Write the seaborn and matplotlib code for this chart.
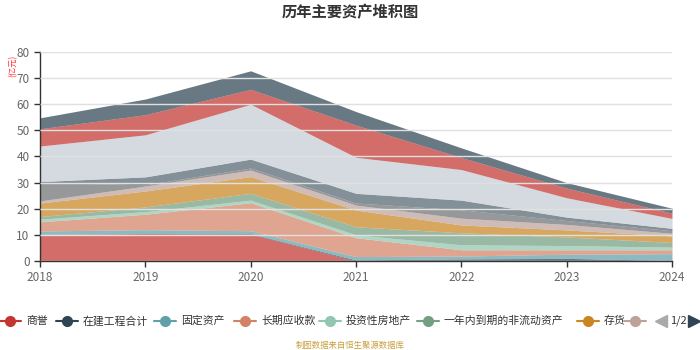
import numpy as np
import matplotlib
matplotlib.use("Agg")
import matplotlib.pyplot as plt
from matplotlib.lines import Line2D
import seaborn as sns

years = [2018, 2019, 2020, 2021, 2022, 2023, 2024]

series_names = ['商誉', '在建工程合计', '固定资产', '长期应收款', '投资性房地产',
                '一年内到期的非流动资产', '存货', '无形资产', '其他应收款',
                '预付款项', '货币资金', '应收账款', '合同资产']

goodwill = [10.2, 10.5, 10.3, 0.0, 0.0, 0.0, 0.0]
construction = [0.0, 0.0, 0.2, 0.4, 0.8, 1.0, 0.2]
fixed_assets = [1.3, 1.5, 1.1, 1.3, 1.1, 1.6, 2.6]
long_receivables = [3.5, 5.9, 10.7, 7.2, 2.4, 1.7, 1.5]
invest_property = [1.0, 1.0, 1.0, 1.1, 1.9, 1.6, 1.0]
current_noncurrent = [1.0, 1.8, 2.6, 3.1, 4.6, 3.3, 1.8]
inventory = [5.2, 6.1, 6.4, 6.4, 3.0, 2.7, 2.5]
intangible = [0.8, 1.9, 2.5, 1.9, 2.6, 2.1, 1.0]
other_receivables = [7.0, 0.5, 0.8, 0.8, 3.2, 1.5, 1.0]
prepayments = [0.4, 3.0, 3.4, 3.7, 3.7, 1.3, 0.9]
cash = [13.6, 16.1, 21.0, 13.8, 11.7, 7.4, 3.8]
receivables = [6.6, 7.7, 5.7, 12.3, 4.6, 3.7, 2.0]
contract_assets = [4.2, 6.0, 7.1, 5.2, 3.7, 2.1, 1.9]

values = [goodwill, construction, fixed_assets, long_receivables, invest_property,
          current_noncurrent, inventory, intangible, other_receivables, prepayments,
          cash, receivables, contract_assets]

colors = ['#c23531', '#2f4554', '#61a0a8', '#d48265', '#91c7ae', '#749f83',
          '#ca8622', '#bda29a', '#6e7074', '#546570', '#c4ccd3', '#c23531', '#2f4554']

sns.set_theme(style='white')
plt.rcParams['font.family'] = ['Noto Sans CJK SC', 'DejaVu Sans']
palette = sns.color_palette(colors)

W, H = 700, 350
fig = plt.figure(figsize=(7, 3.5), dpi=100)
ax = fig.add_axes([40 / W, 1 - 261 / H, 632 / W, 209 / H])

ax.stackplot(years, *values, colors=palette, alpha=0.72, linewidth=0)

ax.set_xlim(2018, 2024)
ax.set_ylim(0, 80)
ax.set_yticks(range(0, 81, 10))
ax.set_xticks(years)
ax.yaxis.grid(True, color='#e0e0e0', linewidth=1)
ax.set_axisbelow(False)
for gl in ax.get_ygridlines():
    gl.set_zorder(0.5)
ax.tick_params(axis='both', labelsize=8.5, colors='#333333', labelcolor='#666666',
               length=4, width=1, direction='out', left=True, bottom=True)
sns.despine(ax=ax, top=True, right=True)
for side in ['left', 'bottom']:
    ax.spines[side].set_color('#333333')
    ax.spines[side].set_linewidth(1)

fig.text(0.5, 1 - 12 / H, '历年主要资产堆积图', ha='center', va='center',
         fontsize=11, fontweight='bold', color='#333333')
fig.text(13 / W, 1 - 66 / H, '(亿元)', ha='center', va='center', rotation=90,
         fontsize=6, color='#ff3333')

# legend, first page only (the 8th label is clipped in the original)
legend_y = 1 - 321 / H
marker_x = [10, 67, 165, 245, 330, 428, 588, 635]
legend_labels = series_names[:7]
for i, mx in enumerate(marker_x):
    fig.add_artist(Line2D([(mx - 11) / W, (mx + 11) / W], [legend_y, legend_y],
                          color=colors[i], linewidth=1.5, transform=fig.transFigure))
    fig.add_artist(Line2D([mx / W], [legend_y], marker='o', markersize=7,
                          color=colors[i], linestyle='none', transform=fig.transFigure))
    if i < len(legend_labels):
        fig.text((mx + 16) / W, legend_y, legend_labels[i], ha='left', va='center',
                 fontsize=7.8, color='#333333')

fig.add_artist(Line2D([661 / W], [legend_y], marker='<', markersize=8, color='#aaaaaa',
                      linestyle='none', transform=fig.transFigure))
fig.text(678 / W, legend_y, '1/2', ha='center', va='center', fontsize=8, color='#333333')
fig.add_artist(Line2D([694 / W], [legend_y], marker='>', markersize=8, color='#2f4554',
                      linestyle='none', transform=fig.transFigure))

fig.text(0.5, 1 - 345 / H, '制图数据来自恒生聚源数据库', ha='center', va='center',
         fontsize=6, color='#c8a040')

fig.savefig('out.png', dpi=100)
